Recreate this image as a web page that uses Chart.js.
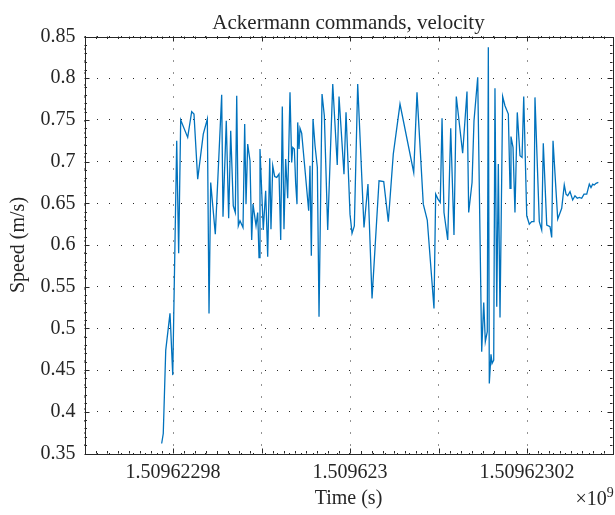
<!DOCTYPE html>
<html>
<head>
<meta charset="utf-8">
<script src="https://cdn.jsdelivr.net/npm/chart.js@4"></script>
<style>
  html, body { margin: 0; padding: 0; background: #fff; }
</style>
</head>
<body>
<canvas id="speedChart" width="615" height="515"></canvas>
<script>
// time is stored as seconds after timeBase
var timeBase = 1509622970;
var timeSec = [
  8.72, 8.90, 9.18, 9.66, 9.74, 9.97, 10.42, 10.64, 10.87, 11.66,
  12.11, 12.37, 12.79, 13.42, 13.88, 14.07, 14.26, 14.78, 15.50, 15.65,
  16.02, 16.29, 16.52, 16.81, 17.04, 17.20, 17.38, 17.57, 17.91, 18.10,
  18.25, 18.44, 18.70, 18.89, 19.04, 19.38, 19.57, 19.72, 19.83, 20.20,
  20.47, 20.70, 20.93, 21.07, 21.27, 21.49, 21.72, 21.98, 22.17, 22.35,
  22.54, 22.73, 22.96, 23.22, 23.41, 23.53, 23.71, 23.86, 24.01, 24.09,
  24.24, 24.35, 24.54, 24.84, 25.33, 25.48, 25.63, 25.82, 26.05, 26.31,
  26.50, 26.84, 27.10, 27.48, 28.05, 28.56, 28.76, 29.32, 29.55, 30.00,
  30.23, 30.49, 30.87, 31.58, 32.03, 32.49, 33.28, 33.81, 34.33, 34.89,
  35.65, 37.20, 37.57, 38.28, 38.73, 39.49, 39.68, 39.94, 40.20, 40.40,
  40.62, 41.04, 41.38, 41.75, 42.01, 42.73, 43.22, 43.41, 43.79, 44.01,
  44.43, 44.88, 45.11, 45.29, 45.51, 45.63, 45.74, 45.93, 46.05, 46.24,
  46.38, 46.58, 46.76, 46.95, 47.25, 47.51, 47.89, 48.08, 48.19, 48.42,
  48.64, 48.90, 49.21, 49.44, 49.63, 49.97, 50.26, 50.53, 50.79, 50.90,
  51.39, 51.66, 51.84, 52.23, 52.60, 52.79, 52.94, 53.47, 53.92, 54.21,
  54.41, 54.60, 54.86, 55.16, 55.42, 55.68, 55.91, 56.18, 56.44, 56.75,
  57.04, 57.23, 57.42, 57.60, 57.80, 58.06
];
var speed = [
  0.362, 0.374, 0.474, 0.518, 0.500, 0.444, 0.725, 0.590, 0.750, 0.729,
  0.760, 0.757, 0.679, 0.733, 0.751, 0.518, 0.675, 0.613, 0.780, 0.634,
  0.749, 0.632, 0.737, 0.647, 0.639, 0.779, 0.623, 0.629, 0.621, 0.745,
  0.649, 0.721, 0.701, 0.606, 0.649, 0.623, 0.639, 0.585, 0.715, 0.618,
  0.665, 0.586, 0.704, 0.619, 0.695, 0.682, 0.681, 0.685, 0.606, 0.766,
  0.619, 0.703, 0.656, 0.783, 0.699, 0.717, 0.715, 0.674, 0.649, 0.747,
  0.715, 0.740, 0.734, 0.699, 0.641, 0.695, 0.587, 0.751, 0.719, 0.693,
  0.514, 0.781, 0.755, 0.618, 0.793, 0.696, 0.778, 0.685, 0.759, 0.637,
  0.614, 0.623, 0.793, 0.621, 0.673, 0.536, 0.677, 0.676, 0.628, 0.709,
  0.769, 0.687, 0.783, 0.649, 0.630, 0.524, 0.661, 0.655, 0.651, 0.752,
  0.639, 0.606, 0.740, 0.612, 0.778, 0.710, 0.784, 0.639, 0.675, 0.749,
  0.801, 0.472, 0.531, 0.484, 0.496, 0.837, 0.434, 0.469, 0.458, 0.462,
  0.788, 0.526, 0.697, 0.513, 0.778, 0.767, 0.757, 0.668, 0.730, 0.717,
  0.639, 0.759, 0.707, 0.705, 0.778, 0.635, 0.625, 0.628, 0.628, 0.777,
  0.628, 0.618, 0.722, 0.624, 0.622, 0.609, 0.725, 0.631, 0.644, 0.672,
  0.661, 0.659, 0.664, 0.654, 0.659, 0.656, 0.657, 0.656, 0.661, 0.661,
  0.673, 0.669, 0.673, 0.672, 0.674, 0.675
];
var xRange = [0, 59.66];
var xTicks = [0, 10, 20, 30, 40, 50];
var xLabelTicks = [10, 30, 50]; // 1.50962298, 1.509623, 1.50962302 (x1e9)
var yRange = [0.35, 0.85];
var yTickStep = 0.05;
var titleText = 'Ackermann commands, velocity';

var axisColor = '#262626';
var serif = 'Liberation Serif';

// MATLAB style box with inward ticks, title and the x10^9 multiplier
var matlabBox = {
  id: 'matlabBox',
  afterDraw: function(chart) {
    var ctx = chart.ctx;
    var a = chart.chartArea;
    var xs = chart.scales.x;
    var ys = chart.scales.y;
    ctx.save();
    ctx.strokeStyle = axisColor;
    ctx.lineWidth = 1;
    ctx.beginPath();
    var xMinor = 10 / 8;
    for (var i = 0; i * xMinor <= xs.max + 1e-9; i++) {
      var px = Math.round(xs.getPixelForValue(i * xMinor)) + 0.5;
      var len = (i % 8 === 0) ? 5 : 2.5;
      ctx.moveTo(px, a.bottom); ctx.lineTo(px, a.bottom - len);
      ctx.moveTo(px, a.top); ctx.lineTo(px, a.top + len);
    }
    var yMinor = yTickStep / 5;
    for (var j = 0; ys.min + j * yMinor <= ys.max + 1e-9; j++) {
      var py = Math.round(ys.getPixelForValue(ys.min + j * yMinor)) + 0.5;
      var ylen = (j % 5 === 0) ? 5 : 2.5;
      ctx.moveTo(a.left, py); ctx.lineTo(a.left + ylen, py);
      ctx.moveTo(a.right, py); ctx.lineTo(a.right - ylen, py);
    }
    ctx.stroke();
    ctx.strokeRect(Math.round(a.left) + 0.5, Math.round(a.top) + 0.5,
                   Math.round(a.right - a.left), Math.round(a.bottom - a.top));

    ctx.fillStyle = axisColor;
    ctx.textBaseline = 'alphabetic';
    ctx.textAlign = 'center';
    ctx.font = '21px "' + serif + '"';
    ctx.fillText(titleText, (a.left + a.right) / 2, a.top - 8);

    ctx.textAlign = 'left';
    ctx.font = '20px "' + serif + '"';
    var ex = a.right - 37, ey = a.bottom + 51;
    ctx.fillText('\u00d710', ex, ey);
    var w = ctx.measureText('\u00d710').width;
    ctx.font = '14px "' + serif + '"';
    ctx.fillText('9', ex + w, ey - 8);
    ctx.restore();
  }
};

new Chart(document.getElementById('speedChart'), {
  type: 'line',
  data: {
    datasets: [{
      label: 'Speed',
      data: timeSec.map(function(t, i) { return { x: t, y: speed[i] }; }),
      borderColor: '#0072BD',
      borderWidth: 1.3,
      pointRadius: 0,
      tension: 0,
      fill: false
    }]
  },
  options: {
    responsive: false,
    animation: false,
    layout: { padding: { left: 0, right: 2.5, top: 36.5, bottom: 0 } },
    plugins: {
      legend: { display: false },
      tooltip: { enabled: false },
      title: { display: false }
    },
    scales: {
      x: {
        type: 'linear',
        min: xRange[0],
        max: xRange[1],
        afterBuildTicks: function(s) {
          s.ticks = xTicks.map(function(v) { return { value: v }; });
        },
        afterFit: function(s) { s.height = 61.5; },
        grid: { color: axisColor, lineWidth: 1, drawTicks: false },
        border: { display: false, dash: [1, 11] },
        ticks: {
          padding: 7,
          maxRotation: 0,
          autoSkip: false,
          color: axisColor,
          font: { family: serif, size: 20 },
          callback: function(v) {
            if (xLabelTicks.indexOf(Math.round(v)) < 0) return '';
            return String(Number(((timeBase + v) / 1e9).toFixed(8)));
          }
        },
        title: {
          display: true,
          text: 'Time (s)',
          color: axisColor,
          font: { family: serif, size: 20 },
          padding: { top: 0, bottom: 4 }
        }
      },
      y: {
        min: yRange[0],
        max: yRange[1],
        afterFit: function(s) { s.width = 84.5; },
        grid: { color: axisColor, lineWidth: 1, drawTicks: false },
        border: { display: false, dash: [1, 11] },
        ticks: {
          stepSize: yTickStep,
          padding: 9,
          color: axisColor,
          font: { family: serif, size: 20 },
          callback: function(v) { return String(Number(v.toFixed(2))); }
        },
        title: {
          display: true,
          text: 'Speed (m/s)',
          color: axisColor,
          font: { family: serif, size: 20 },
          padding: { top: 7, bottom: 0 }
        }
      }
    }
  },
  plugins: [matlabBox]
});
</script>
</body>
</html>
